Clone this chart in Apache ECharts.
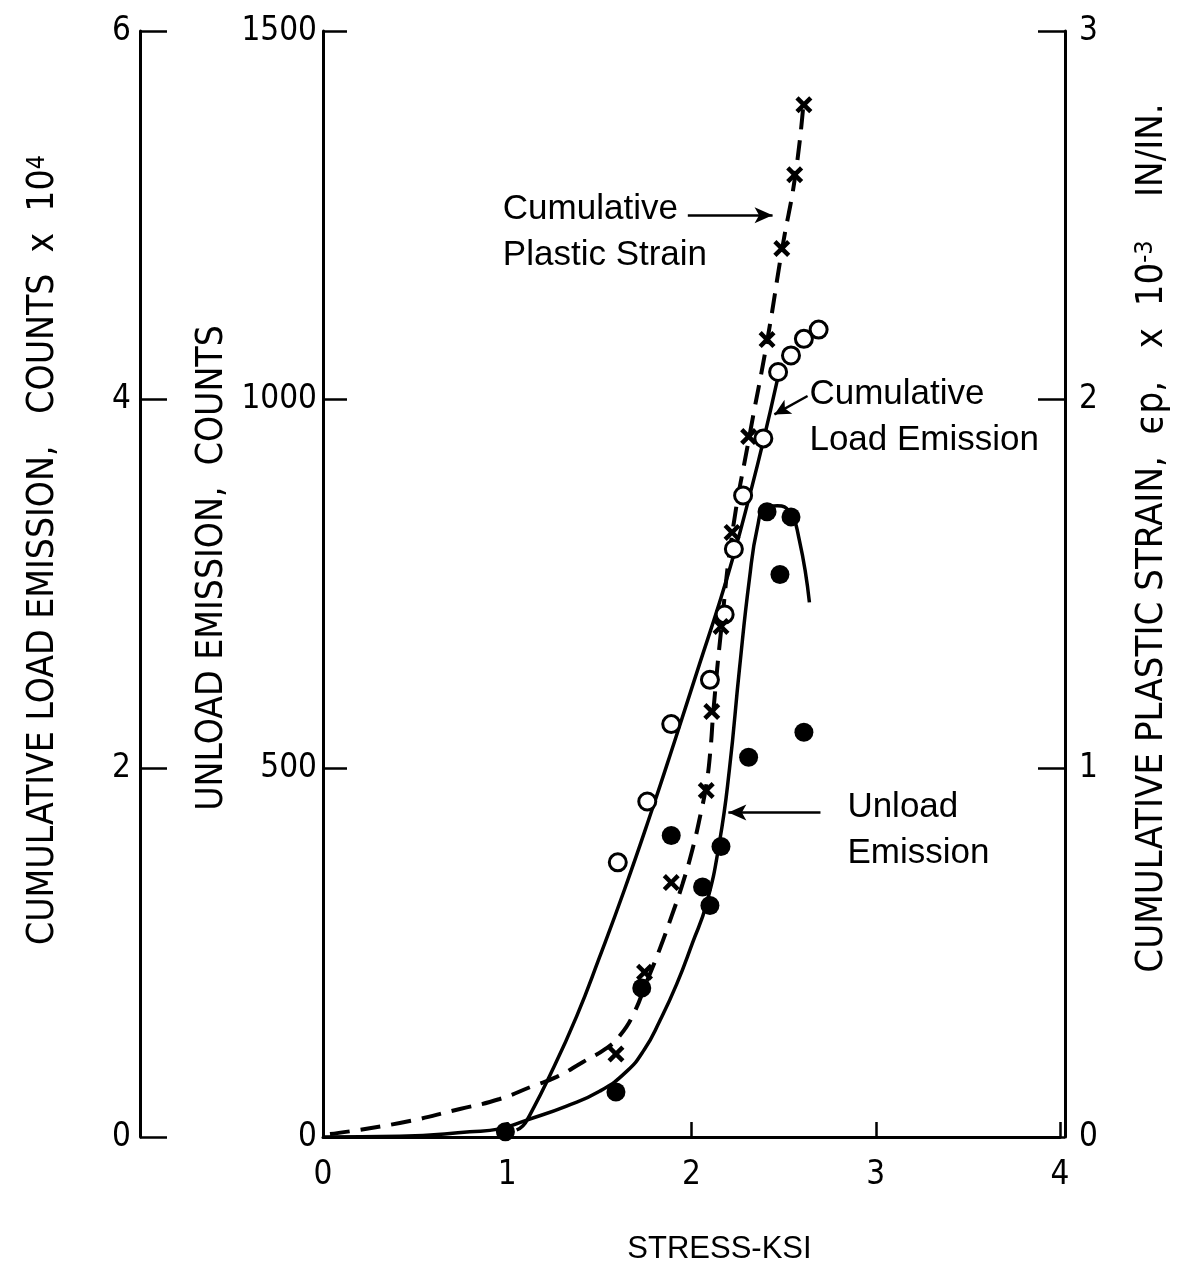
<!DOCTYPE html>
<html><head><meta charset="utf-8">
<script src="https://cdn.jsdelivr.net/npm/echarts@6/dist/echarts.min.js"></script>
<style>html,body{margin:0;padding:0;background:#fff}#c{width:1179px;height:1270px}</style>
</head><body><div id="c"></div>
<script>
// ---- Data ----
// Cumulative load emission curve (x: stress ksi, y: counts x 10^4)
const loadCurveX = [1.051, 1.084, 1.111, 1.23, 1.377, 1.501, 1.637, 1.783, 1.908, 2.043, 2.152, 2.233, 2.314, 2.385, 2.466];
const loadCurveY = [0.038, 0.06, 0.098, 0.331, 0.656, 0.976, 1.344, 1.767, 2.146, 2.564, 2.9, 3.171, 3.474, 3.756, 4.108];
// Unload emission curve (counts)
const unloadCurveX = [0, 0.417, 0.797, 0.959, 1.106, 1.322, 1.501, 1.648, 1.745, 1.827, 1.919, 2.005, 2.081, 2.152, 2.206, 2.26, 2.314, 2.358, 2.401, 2.466, 2.531, 2.585, 2.64];
const unloadCurveY = [0, 1, 7, 11, 23, 42, 62, 89, 119, 157, 207, 263, 316, 400, 499, 634, 756, 827, 854, 856, 848, 810, 725];
// Cumulative plastic strain curve (x 10^-3 in/in)
const strainCurveX = [0.038, 0.417, 0.743, 0.959, 1.138, 1.268, 1.409, 1.539, 1.61, 1.68, 1.756, 1.827, 1.892, 1.951, 2.005, 2.049, 2.081, 2.103, 2.119, 2.163, 2.222, 2.314, 2.412, 2.493, 2.564, 2.607];
const strainCurveY = [0.008, 0.038, 0.076, 0.103, 0.138, 0.163, 0.203, 0.241, 0.274, 0.328, 0.42, 0.509, 0.599, 0.686, 0.78, 0.875, 0.957, 1.051, 1.157, 1.385, 1.64, 1.9, 2.163, 2.412, 2.61, 2.799];
// Measured points
const loadPtsX = [1.60, 1.76, 1.89, 2.10, 2.18, 2.23, 2.28, 2.39, 2.47, 2.54, 2.61, 2.69];
const loadPtsY = [1.49, 1.82, 2.24, 2.48, 2.835, 3.19, 3.48, 3.79, 4.15, 4.24, 4.33, 4.38];
const unloadPtsX = [0.99, 1.59, 1.73, 1.89, 2.06, 2.10, 2.16, 2.31, 2.41, 2.48, 2.54, 2.61];
const unloadPtsY = [7, 61, 202, 409, 339, 314, 394, 515, 848, 763, 841, 549];
const strainPtsX = [1.59, 1.745, 1.89, 2.08, 2.11, 2.16, 2.22, 2.31, 2.41, 2.49, 2.56, 2.61];
const strainPtsY = [0.225, 0.447, 0.69, 0.94, 1.154, 1.385, 1.64, 1.90, 2.163, 2.41, 2.61, 2.80];
// Axis ranges / ticks
const xTicks = [0, 1, 2, 3, 4];
const unloadTicks = [0, 500, 1000, 1500];
const loadTicks = [0, 2, 4, 6];
const strainTicks = [0, 1, 2, 3];
// Annotations (anchor = left edge / first-line centre, in stress & unload-count units)
const annotations = [
  {lines: ['Cumulative', 'Plastic Strain'], x: 0.976, y: 1253},
  {lines: ['Cumulative', 'Load Emission'], x: 2.64, y: 1003},
  {lines: ['Unload', 'Emission'], x: 2.846, y: 442}
];

const FONT = "'Liberation Sans Narrow','DejaVu Sans Condensed','Liberation Sans',sans-serif";
const LFONT = "'Liberation Sans','DejaVu Sans',sans-serif";
const zip = (a, b) => a.map((v, i) => [v, b[i]]);
const plain = v => String(v);

const chart = echarts.init(document.getElementById('c'), null, {renderer: 'canvas'});

function yAxisBase(ticks, extra) {
  return Object.assign({
    type: 'value', min: ticks[0], max: ticks[ticks.length - 1], interval: ticks[1] - ticks[0],
    splitLine: {show: false},
    axisLine: {show: true, onZero: false, lineStyle: {color: '#000', width: 3}},
    axisTick: {show: true, inside: true, length: 24, lineStyle: {color: '#000', width: 2.5}},
    nameLocation: 'middle'
  }, extra);
}
const SUP = {s: {fontFamily: FONT, fontSize: 25, verticalAlign: 'top', color: '#000'}};

const option = {
  animation: false,
  backgroundColor: '#fff',
  grid: {left: 323, right: 116, top: 31, bottom: 132, containLabel: false},
  xAxis: {
    type: 'value', min: xTicks[0], max: xTicks[xTicks.length - 1], interval: 1,
    splitLine: {show: false},
    axisLine: {show: true, onZero: false, lineStyle: {color: '#000', width: 3}},
    axisTick: {show: true, inside: true, length: 15, lineStyle: {color: '#000', width: 2.5}},
    axisLabel: {color: '#000', fontFamily: FONT, fontSize: 33, margin: 22, formatter: plain},
    name: 'STRESS-KSI', nameLocation: 'middle', nameGap: 97,
    nameTextStyle: {color: '#000', fontFamily: LFONT, fontSize: 31, padding: [0, 0, 0, 56]}
  },
  yAxis: [
    yAxisBase(unloadTicks, {position: 'left', offset: 0,
      axisLabel: {color: '#000', fontFamily: FONT, fontSize: 33, margin: 6, formatter: plain},
      name: 'UNLOAD EMISSION,  COUNTS', nameGap: 70,
      nameTextStyle: {color: '#000', fontFamily: FONT, fontSize: 37, padding: [0, 0, 0, 32]}}),
    yAxisBase(loadTicks, {position: 'left', offset: 183,
      axisLabel: {color: '#000', fontFamily: FONT, fontSize: 33, margin: 9, formatter: plain},
      axisTick: {show: true, inside: true, length: 27, lineStyle: {color: '#000', width: 2.5}},
      name: 'CUMULATIVE LOAD EMISSION,   COUNTS  x  10{s|4}', nameGap: 78,
      nameTextStyle: {color: '#000', fontFamily: FONT, fontSize: 37, padding: [0, 0, 0, 68], rich: SUP}}),
    yAxisBase(strainTicks, {position: 'right', offset: 5,
      axisLabel: {color: '#000', fontFamily: FONT, fontSize: 33, margin: 14, formatter: plain},
      axisTick: {show: true, inside: true, length: 27, lineStyle: {color: '#000', width: 2.5}},
      name: 'CUMULATIVE PLASTIC STRAIN,  \u03f5p,   x  10{s|-3}    IN/IN.', nameGap: 68,
      nameTextStyle: {color: '#000', fontFamily: FONT, fontSize: 38, padding: [0, 0, 0, 92], rich: SUP}})
  ],
  series: [
    {type: 'line', name: 'loadCurve', yAxisIndex: 1, data: zip(loadCurveX, loadCurveY), smooth: 0.5,
      showSymbol: false, lineStyle: {color: '#000', width: 3.5}, z: 2,
      markLine: {silent: true, symbol: ['none', 'arrow'], symbolSize: [12, 16], label: {show: false},
        lineStyle: {color: '#000', width: 2.5, type: 'solid'},
        data: [[{coord: [2.63, 4.02]}, {coord: [2.45, 3.92]}]]}},
    {type: 'line', name: 'unloadCurve', yAxisIndex: 0, data: zip(unloadCurveX, unloadCurveY), smooth: 0.5,
      showSymbol: false, lineStyle: {color: '#000', width: 3.5}, z: 2,
      markLine: {silent: true, symbol: ['none', 'arrow'], symbolSize: [12, 18], label: {show: false},
        lineStyle: {color: '#000', width: 2.5, type: 'solid'},
        data: [[{coord: [2.70, 440]}, {coord: [2.20, 440]}]]}},
    {type: 'line', name: 'strainCurve', yAxisIndex: 2, data: zip(strainCurveX, strainCurveY), smooth: 0.5,
      showSymbol: false, lineStyle: {color: '#000', width: 4, type: [20, 11]}, z: 2,
      markLine: {silent: true, symbol: ['none', 'arrow'], symbolSize: [12, 18], label: {show: false},
        lineStyle: {color: '#000', width: 2.5, type: 'solid'},
        data: [[{coord: [1.98, 2.50]}, {coord: [2.44, 2.50]}]]}},
    {type: 'scatter', name: 'loadPts', yAxisIndex: 1, data: zip(loadPtsX, loadPtsY), symbol: 'circle',
      symbolSize: 17, itemStyle: {color: '#fff', borderColor: '#000', borderWidth: 3, opacity: 1}, z: 5},
    {type: 'scatter', name: 'unloadPts', yAxisIndex: 0, data: zip(unloadPtsX, unloadPtsY), symbol: 'circle',
      symbolSize: 19, itemStyle: {color: '#000', opacity: 1}, z: 5},
    {type: 'scatter', name: 'strainPts', yAxisIndex: 2, data: zip(strainPtsX, strainPtsY),
      symbol: 'path://M0,3L3,0L8,5L13,0L16,3L11,8L16,13L13,16L8,11L3,16L0,13L5,8Z', symbolSize: 17,
      itemStyle: {color: '#000', opacity: 1}, z: 5}
  ]
};
chart.setOption(option);

const graphics = [];
annotations.forEach(a => {
  const p = chart.convertToPixel({xAxisIndex: 0, yAxisIndex: 0}, [a.x, a.y]);
  a.lines.forEach((t, i) => {
    graphics.push({type: 'text', left: p[0], top: p[1] - 21 + i * 46, silent: true,
      style: {text: t, fill: '#000', font: '35px ' + LFONT}});
  });
});
chart.setOption({graphic: graphics});
</script>
</body></html>
